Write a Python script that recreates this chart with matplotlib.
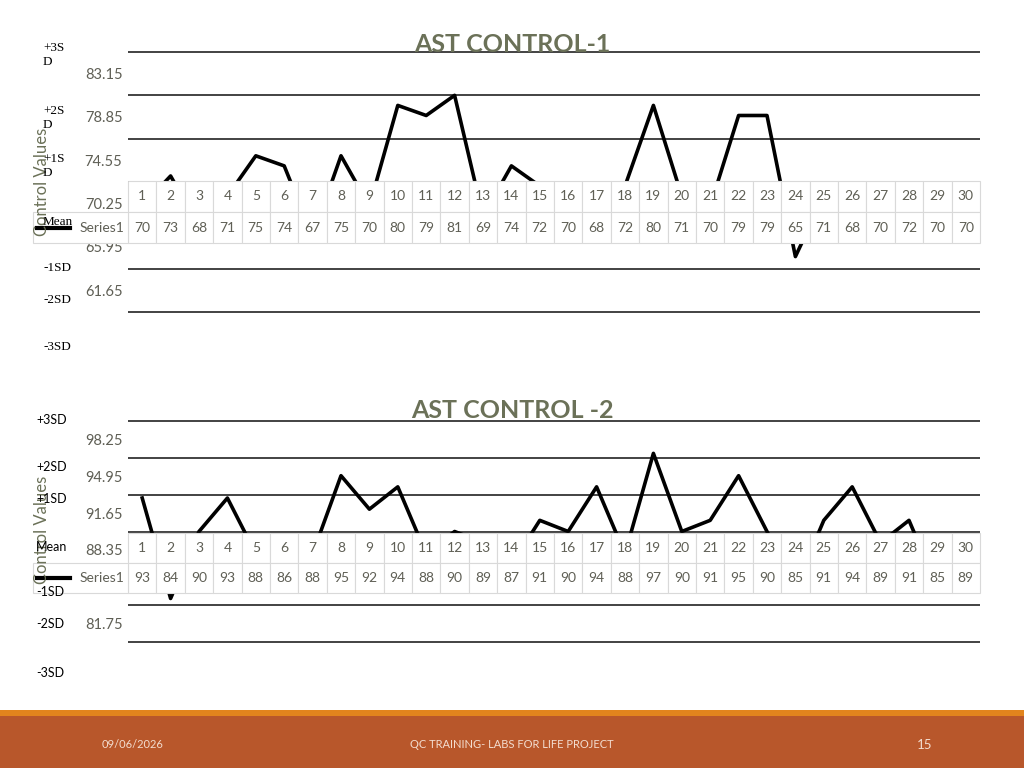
import matplotlib
matplotlib.use("Agg")
import matplotlib.pyplot as plt
from matplotlib.patches import Rectangle
from matplotlib.lines import Line2D
import matplotlib.transforms as mtransforms

# --- data ---
points = list(range(1, 31))
ctrl1_values = [70, 73, 68, 71, 75, 74, 67, 75, 70, 80, 79, 81, 69, 74, 72,
                70, 68, 72, 80, 71, 70, 79, 79, 65, 71, 68, 70, 72, 70, 70]
ctrl2_values = [93, 84, 90, 93, 88, 86, 88, 95, 92, 94, 88, 90, 89, 87, 91,
                90, 94, 88, 97, 90, 91, 95, 90, 85, 91, 94, 89, 91, 85, 89]
ctrl1_mean, ctrl1_sd = 72.4, 4.3
ctrl2_mean, ctrl2_sd = 90.0, 3.3
ctrl1_ticks = [61.65, 65.95, 70.25, 74.55, 78.85, 83.15]
ctrl2_ticks = [81.75, 85.05, 88.35, 91.65, 94.95, 98.25]
sd_labels = ["+3SD", "+2SD", "+1SD", "Mean", "-1SD", "-2SD", "-3SD"]

W, H = 1024, 768
GRAY = "#5f5f55"
TITLE_C = "#6b7158"
GRID_C = "#d9d9d9"
PAD = 4  # px of room above/below the +-3SD lines so they are not clipped

fig = plt.figure(figsize=(W / 100, H / 100), dpi=100)
fig.patch.set_facecolor("white")


def px_axes(left, top, right, bottom):
    return fig.add_axes([left / W, 1 - (bottom + PAD) / H, (right - left) / W,
                         (bottom - top + 2 * PAD) / H])


def draw_chart(ax, values, mean, sd, ticks, title, title_y, span_px, tab_px, ylab_y):
    pad_units = PAD * 6 * sd / span_px
    ax.set_xlim(0.5, 30.5)
    ax.set_ylim(mean - 3 * sd - pad_units, mean + 3 * sd + pad_units)
    for s in ax.spines.values():
        s.set_visible(False)
    ax.set_xticks([])
    ax.set_yticks(ticks)
    ax.set_yticklabels([f"{t:.2f}" for t in ticks], color=GRAY, fontsize=10.5,
                       family="Lato")
    ax.tick_params(axis="y", length=0, pad=4)
    ax.yaxis.set_zorder(8)

    # SD limit lines
    for k in [3, 2, 1, 0, -1, -2, -3]:
        lw = 2.2 if k == -1 else 1.2
        col = "#404040" if k == -1 else "#222222"
        ax.axhline(mean + k * sd, color=col, lw=lw, zorder=1)

    ax.plot(points, values, color="black", lw=2.6, zorder=2)

    # data table drawn over the line (rows given in pixel rows of the slide)
    top_px, mid_px, bot_px = tab_px
    trans = mtransforms.blended_transform_factory(ax.transData, fig.transFigure)
    rows = [(1 - mid_px / H, 1 - top_px / H, [str(p) for p in points]),
            (1 - bot_px / H, 1 - mid_px / H, [str(v) for v in values])]
    for y0, y1, texts in rows:
        for i, txt in zip(points, texts):
            fig.patches.append(Rectangle((i - 0.5, y0), 1, y1 - y0, transform=trans,
                                         facecolor="white", edgecolor=GRID_C, lw=0.8,
                                         zorder=5))
            fig.text(i, (y0 + y1) / 2, txt, transform=trans, ha="center", va="center",
                     color=GRAY, fontsize=10, family="Lato", zorder=6)
    y0, y1 = 1 - bot_px / H, 1 - mid_px / H
    fig.patches.append(Rectangle((33 / W, y0), 95 / W, y1 - y0, transform=fig.transFigure,
                                 facecolor="white", edgecolor=GRID_C, lw=0.8, zorder=5))
    fig.text(124 / W, (y0 + y1) / 2, "Series1", ha="right", va="center", color=GRAY,
             fontsize=10, family="Lato", zorder=6)
    fig.lines.append(Line2D([37 / W, 70 / W], [(y0 + y1) / 2] * 2,
                            transform=fig.transFigure, color="black", lw=3, zorder=6))

    fig.text(512 / W, 1 - title_y / H, title, ha="center", va="center", color=TITLE_C,
             fontsize=18, fontweight="bold", family="Lato", zorder=7)
    fig.text(42 / W, 1 - ylab_y / H, "Control Values", rotation=90, ha="center",
             va="center", color=TITLE_C, fontsize=12, family="Lato", zorder=7)


ax1 = px_axes(128, 52, 980, 312)
draw_chart(ax1, ctrl1_values, ctrl1_mean, ctrl1_sd, ctrl1_ticks, "AST CONTROL-1", 45,
           260, (181, 212, 243), 182)
ax2 = px_axes(128, 421, 980, 642)
draw_chart(ax2, ctrl2_values, ctrl2_mean, ctrl2_sd, ctrl2_ticks, "AST CONTROL -2", 411,
           221, (533, 563, 593), 530)
for a in (ax1, ax2):
    a.set_zorder(1)
    a.patch.set_visible(False)

# SD side labels (chart 1 wraps in a serif font, chart 2 in sans)
ys1 = [55, 118, 166, 222, 268, 300, 347]
for lab, y in zip(sd_labels, ys1):
    txt = lab if lab == "Mean" or lab.startswith("-") else lab[:3] + "\n" + lab[3:]
    fig.text(43 / W, 1 - y / H, txt, ha="left", va="center", fontsize=9.5,
             family="Liberation Serif", color="black", linespacing=1.15, zorder=8)
ys2 = [420, 467, 499, 547, 592, 624, 673]
for lab, y in zip(sd_labels, ys2):
    fig.text(36 / W, 1 - y / H, lab, ha="left", va="center", fontsize=9,
             family="Lato", color="black", zorder=8)

# footer band
fig.patches.append(Rectangle((0, 0), 1, 52 / H, transform=fig.transFigure,
                             facecolor="#b8572b", edgecolor="none", zorder=0))
fig.patches.append(Rectangle((0, 52 / H), 1, 6 / H, transform=fig.transFigure,
                             facecolor="#e2841d", edgecolor="none", zorder=0))
foot_y = 1 - 745 / H
fig.text(133 / W, foot_y, "09/06/2026", ha="center", va="center", fontsize=8,
         color="#f3ddd0", family="Lato")
fig.text(512 / W, foot_y, "QC TRAINING- LABS FOR LIFE PROJECT", ha="center",
         va="center", fontsize=8, color="#f3ddd0", family="Lato")
fig.text(925 / W, foot_y, "15", ha="center", va="center", fontsize=9.5,
         color="#f3ddd0", family="Lato")

fig.savefig("out.png", dpi=100)
